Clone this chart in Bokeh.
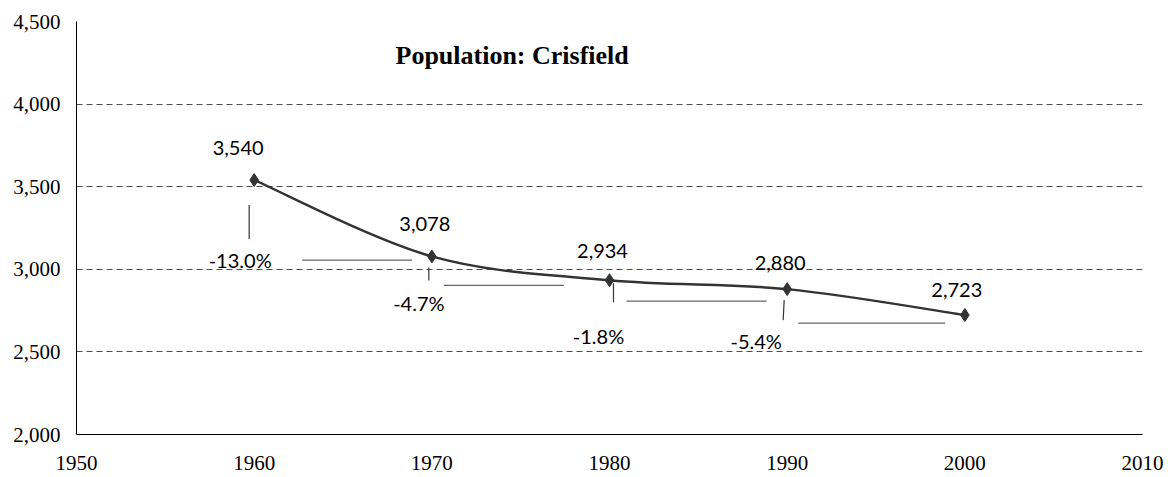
from bokeh.plotting import figure
from bokeh.models import Range1d, FixedTicker, NumeralTickFormatter, Label
from bokeh.embed import file_html
from bokeh.resources import INLINE

# ---- data ----
years = [1960, 1970, 1980, 1990, 2000]
population = [3540, 3078, 2934, 2880, 2723]
pop_labels = ["3,540", "3,078", "2,934", "2,880", "2,723"]
pct_labels = ["-13.0%", "-4.7%", "-1.8%", "-5.4%"]
x_ticks = [1950, 1960, 1970, 1980, 1990, 2000, 2010]
y_ticks = [2000, 2500, 3000, 3500, 4000, 4500]
title_text = "Population: Crisfield"

# ---- layout ----
W, H = 1165, 477
BL, BR, BT, BB = 76, 23, 21, 43
XMIN, XMAX, YMIN, YMAX = 1950, 2010, 2000, 4500
fw = W - BL - BR
fh = H - BT - BB
px_x = (XMAX - XMIN) / fw   # data units per pixel
px_y = (YMAX - YMIN) / fh

p = figure(width=W, height=H, output_backend="svg", toolbar_location=None,
           x_range=Range1d(XMIN, XMAX), y_range=Range1d(YMIN, YMAX),
           min_border_left=BL, min_border_right=BR, min_border_top=BT, min_border_bottom=BB)
p.outline_line_color = None
p.background_fill_color = "white"
p.border_fill_color = "white"

p.xgrid.grid_line_color = None
p.ygrid.ticker = FixedTicker(ticks=y_ticks[1:])
p.ygrid.grid_line_color = "#4d4d4d"
p.ygrid.grid_line_dash = "6 4"
p.ygrid.grid_line_width = 1

for ax in (p.xaxis[0], p.yaxis[0]):
    ax.axis_line_color = "black"
    ax.axis_line_width = 1
    ax.major_tick_line_color = None
    ax.minor_tick_line_color = None
    ax.major_tick_out = 0
    ax.major_tick_in = 0
    ax.major_label_text_font = "Liberation Serif"
    ax.major_label_text_font_size = "21px"
    ax.major_label_text_color = "black"
p.xaxis.ticker = FixedTicker(ticks=x_ticks)
p.yaxis.ticker = FixedTicker(ticks=y_ticks)
p.yaxis.formatter = NumeralTickFormatter(format="0,0")
p.xaxis.major_label_standoff = 21
p.yaxis.major_label_standoff = 16

# ---- smooth line (Catmull-Rom bezier through the data points) ----
n = len(years)
x0s, y0s, x1s, y1s, cx0, cy0, cx1, cy1 = [], [], [], [], [], [], [], []
for i in range(n - 1):
    pm = max(i - 1, 0)
    pp = min(i + 2, n - 1)
    x0s.append(years[i]); y0s.append(population[i])
    x1s.append(years[i + 1]); y1s.append(population[i + 1])
    cx0.append(years[i] + (years[i + 1] - years[pm]) / 6)
    cy0.append(population[i] + (population[i + 1] - population[pm]) / 6)
    cx1.append(years[i + 1] - (years[pp] - years[i]) / 6)
    cy1.append(population[i + 1] - (population[pp] - population[i]) / 6)
p.bezier(x0=x0s, y0=y0s, x1=x1s, y1=y1s, cx0=cx0, cy0=cy0, cx1=cx1, cy1=cy1,
         line_color="#333333", line_width=2.4)
p.scatter(years, population, marker="diamond", size=13, fill_color="#333333", line_color="#333333")

# ---- value labels ----
lab_dx = [-16, -7, -7, -7, -8]
lab_dy = [32, 32, 29, 26, 25]
for xx, yy, t, dx, dy in zip(years, population, pop_labels, lab_dx, lab_dy):
    p.add_layout(Label(x=xx + dx * px_x, y=yy + dy * px_y, text=t, text_align="center",
                       text_baseline="middle", text_font="Lato", text_font_size="20px",
                       text_color="black"))

# ---- percent-change labels with leader lines ----
pct_dx = [-14, -13, -11, -31]
pct_dy = [-80, -47, -56, -52]
for i, t in enumerate(pct_labels):
    p.add_layout(Label(x=years[i] + pct_dx[i] * px_x, y=population[i] + pct_dy[i] * px_y,
                       text=t, text_align="center", text_baseline="middle",
                       text_font="Lato", text_font_size="20px", text_color="black"))

v_dx = [(-5, -5), (-3, -3), (4, 4), (-3, -4)]
v_dy = [(25, 59), (11, 24), (3, 22), (11, 31)]
h_dx = [(48, 158), (12, 132), (17, 157), (11, 158)]
h_dy = [80, 29, 21, 34]
sx0, sy0, sx1, sy1 = [], [], [], []
for i in range(len(pct_labels)):
    sx0.append(years[i] + v_dx[i][0] * px_x); sy0.append(population[i] - v_dy[i][0] * px_y)
    sx1.append(years[i] + v_dx[i][1] * px_x); sy1.append(population[i] - v_dy[i][1] * px_y)
p.segment(sx0, sy0, sx1, sy1, line_color="#333333", line_width=1.2)
hx0, hy0, hx1, hy1 = [], [], [], []
for i in range(len(pct_labels)):
    hx0.append(years[i] + h_dx[i][0] * px_x); hy0.append(population[i] - h_dy[i] * px_y)
    hx1.append(years[i] + h_dx[i][1] * px_x); hy1.append(population[i] - h_dy[i] * px_y)
p.segment(hx0, hy0, hx1, hy1, line_color="#666666", line_width=1.2)

# ---- title ----
p.add_layout(Label(x=XMIN + 319 * px_x, y=YMAX - 34 * px_y, text=title_text,
                   text_align="left", text_baseline="middle", text_font="Liberation Serif",
                   text_font_style="bold", text_font_size="26px", text_color="black"))

open("out.html", "w").write(file_html(p, INLINE))
